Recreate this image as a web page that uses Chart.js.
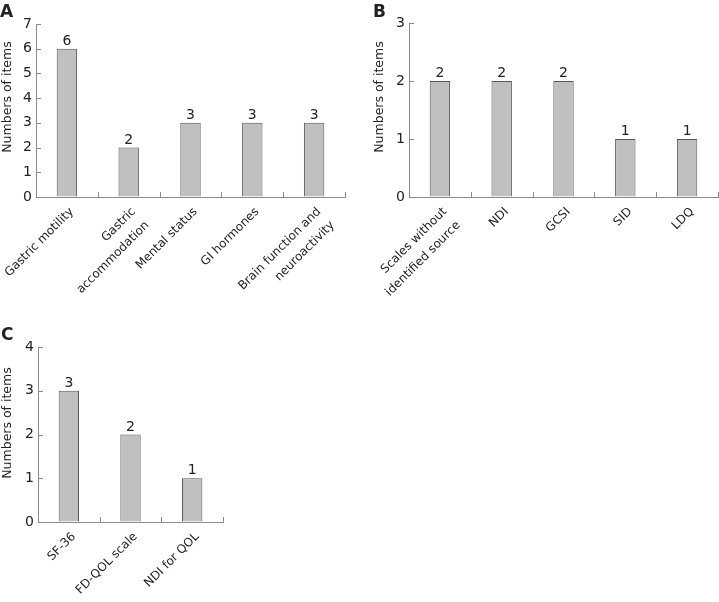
<!DOCTYPE html>
<html>
<head>
<meta charset="utf-8">
<script src="https://cdn.jsdelivr.net/npm/chart.js@4"></script>
<style>
  html, body { margin: 0; padding: 0; background: #fff; }
  body { width: 719px; height: 602px; position: relative; overflow: hidden; }
  canvas { position: absolute; }
</style>
</head>
<body>
<script>
// panel A - mechanism outcomes
const labelsA = [['Gastric motility'], ['Gastric', 'accommodation'], ['Mental status'], ['GI hormones'], ['Brain function and', 'neuroactivity']];
const valuesA = [6, 2, 3, 3, 3];
const maxA = 7;

// panel B - symptom scales
const labelsB = [['Scales without', 'identified source'], ['NDI'], ['GCSI'], ['SID'], ['LDQ']];
const valuesB = [2, 2, 2, 1, 1];
const maxB = 3;

// panel C - quality of life scales
const labelsC = [['SF-36'], ['FD-QOL scale'], ['NDI for QOL']];
const valuesC = [3, 2, 1];
const maxC = 4;

const yTitle = 'Numbers of items';
const FONT = 'DejaVu Sans';
const TEXT = '#222';
const AXIS = '#8a8a8a';

// ticks pointing into the plot, like the original figure
const inwardTicks = {
    id: 'inwardTicks',
    afterDraw(chart) {
        const c = chart.ctx;
        const x = chart.scales.x;
        const y = chart.scales.y;
        c.save();
        c.strokeStyle = AXIS;
        c.lineWidth = 1;
        c.beginPath();
        y.ticks.forEach(function(t) {
            const py = Math.round(y.getPixelForValue(t.value)) + 0.5;
            c.moveTo(x.left, py);
            c.lineTo(x.left + 5, py);
        });
        for (let i = 0; i <= chart.data.labels.length; i++) {
            const px = Math.round(x.getPixelForValue(i - 0.5)) + 0.5;
            c.moveTo(px, y.bottom);
            c.lineTo(px, y.bottom - 5);
        }
        c.stroke();
        c.restore();
    }
};

// letters, y titles and numbers on top of the bars
const panelText = {
    id: 'panelText',
    afterDraw(chart, args, opts) {
        const c = chart.ctx;
        c.save();
        c.fillStyle = TEXT;
        c.font = 'bold 17px ' + FONT;
        c.textAlign = 'left';
        c.textBaseline = 'alphabetic';
        c.fillText(opts.letter, opts.letterX, opts.letterY);

        c.save();
        c.translate(opts.titleX, opts.titleY);
        c.rotate(-Math.PI / 2);
        c.font = '12.5px ' + FONT;
        c.textAlign = 'center';
        c.textBaseline = 'middle';
        c.fillText(yTitle, 0, 0);
        c.restore();

        c.font = '14px ' + FONT;
        c.textAlign = 'center';
        c.textBaseline = 'alphabetic';
        const meta = chart.getDatasetMeta(0);
        const values = chart.data.datasets[0].data;
        meta.data.forEach(function(bar, i) {
            c.fillText(String(values[i]), bar.x, bar.y - 4);
        });
        c.restore();
    }
};

function makePanel(p) {
    const canvas = document.createElement('canvas');
    canvas.width = p.w;
    canvas.height = p.h;
    canvas.style.left = p.left + 'px';
    canvas.style.top = p.top + 'px';
    canvas.style.width = p.w + 'px';
    canvas.style.height = p.h + 'px';
    document.body.appendChild(canvas);

    new Chart(canvas, {
        type: 'bar',
        data: {
            labels: p.labels,
            datasets: [{
                data: p.values,
                backgroundColor: '#c0c0c0',
                borderColor: '#555',
                borderWidth: 1,
                barPercentage: 0.33,
                categoryPercentage: 1
            }]
        },
        options: {
            responsive: false,
            animation: false,
            events: [],
            layout: { padding: { left: 0, right: p.padRight, top: p.padTop, bottom: 0 } },
            scales: {
                x: {
                    grid: { drawOnChartArea: false, drawTicks: false },
                    border: { color: AXIS, width: 1 },
                    ticks: {
                        color: TEXT,
                        font: { family: FONT, size: 12, lineHeight: 1.6 },
                        minRotation: 45,
                        maxRotation: 45,
                        autoSkip: false,
                        padding: 6,
                        labelOffset: 5
                    },
                    afterFit: function(scale) {
                        scale.height = p.xHeight;
                        scale.paddingLeft = 0;
                        scale.paddingRight = 0;
                    }
                },
                y: {
                    min: 0,
                    max: p.max,
                    grid: { drawOnChartArea: false, drawTicks: false },
                    border: { color: AXIS, width: 1 },
                    ticks: {
                        stepSize: 1,
                        color: TEXT,
                        font: { family: FONT, size: 14 },
                        padding: 4
                    },
                    afterFit: function(scale) {
                        scale.width = p.yWidth;
                        scale.paddingTop = 0;
                        scale.paddingBottom = 0;
                    }
                }
            },
            plugins: {
                legend: { display: false },
                tooltip: { enabled: false },
                panelText: {
                    letter: p.letter,
                    letterX: p.letterX,
                    letterY: p.letterY,
                    titleX: p.titleX,
                    titleY: p.titleY
                }
            }
        },
        plugins: [inwardTicks, panelText]
    });
}

document.addEventListener('DOMContentLoaded', function() {
    makePanel({
        left: 0, top: 0, w: 360, h: 300,
        labels: labelsA, values: valuesA, max: maxA,
        yWidth: 36, xHeight: 103, padTop: 24, padRight: 15,
        letter: 'A', letterX: 0, letterY: 17, titleX: 8, titleY: 97
    });
    makePanel({
        left: 360, top: 0, w: 359, h: 300,
        labels: labelsB, values: valuesB, max: maxB,
        yWidth: 49, xHeight: 103, padTop: 23, padRight: 1,
        letter: 'B', letterX: 13, letterY: 17, titleX: 20, titleY: 97
    });
    makePanel({
        left: 0, top: 300, w: 360, h: 302,
        labels: labelsC, values: valuesC, max: maxC,
        yWidth: 38, xHeight: 80, padTop: 47, padRight: 137,
        letter: 'C', letterX: 1, letterY: 40, titleX: 8, titleY: 123
    });
});
</script>
</body>
</html>
